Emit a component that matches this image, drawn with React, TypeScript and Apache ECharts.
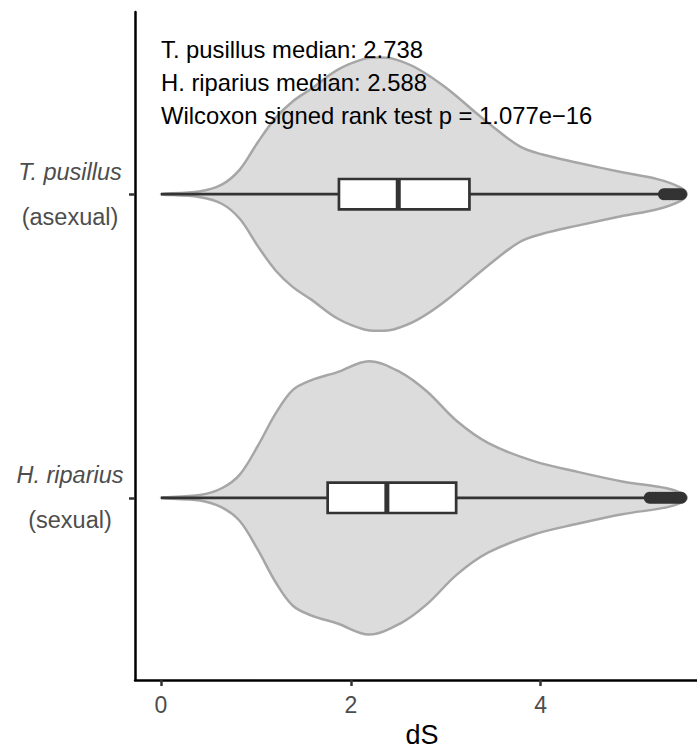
import React, { useEffect, useRef } from 'react';
import * as echarts from 'echarts';

// Categories (top to bottom) and their positions on the discrete y scale
const speciesNames = ['T. pusillus', 'H. riparius'];
const reproLabels = ['(asexual)', '(sexual)'];
const categoryPos = [2, 1];

// Violin density profiles (dS value, relative half-width)
const densityDsT = [0, 0.4, 0.64, 0.83, 1.02, 1.21, 1.39, 1.58, 1.86, 2.14, 2.3, 2.45, 2.7, 3.0, 3.45, 3.78, 4.02, 4.39, 4.86, 5.23, 5.47, 5.54];
const densityWT = [0, 0.02, 0.07, 0.18, 0.38, 0.56, 0.68, 0.77, 0.91, 0.99, 1.0, 0.99, 0.92, 0.78, 0.52, 0.35, 0.29, 0.23, 0.16, 0.11, 0.05, 0];
const densityDsH = [0, 0.41, 0.64, 0.83, 1.02, 1.21, 1.39, 1.58, 1.86, 2.19, 2.52, 2.8, 3.12, 3.45, 3.92, 4.39, 4.86, 5.33, 5.5, 5.54];
const densityWH = [0, 0.02, 0.07, 0.17, 0.38, 0.62, 0.79, 0.86, 0.92, 1.0, 0.92, 0.78, 0.56, 0.4, 0.27, 0.19, 0.12, 0.07, 0.03, 0];

// Box statistics: [lower whisker, Q1, median, Q3, upper whisker]
const boxT = [0, 1.875, 2.5, 3.25, 5.3];
const boxH = [0, 1.756, 2.38, 3.11, 5.12];

// Outliers (overlapping points near the max)
const outliersT = [5.3, 5.33, 5.36, 5.39, 5.42, 5.45, 5.48];
const outliersH = [5.15, 5.18, 5.21, 5.24, 5.27, 5.3, 5.33, 5.36, 5.39, 5.42, 5.45, 5.48];

const xTicks = [0, 2, 4];
const xAxisTitle = 'dS';
const annotationLines = [
  'T. pusillus median: 2.738',
  'H. riparius median: 2.588',
  'Wilcoxon signed rank test p = 1.077e\u221216',
];

const FONT = 'Liberation Sans, Arial, Helvetica, sans-serif';

export default function App() {
  const ref = useRef<HTMLDivElement>(null);
  useEffect(() => {
    if (!ref.current) return;
    const chart = echarts.init(ref.current, null, { renderer: 'svg' });
    const densX = [densityDsT, densityDsH];
    const densW = [densityWT, densityWH];
    const boxes = [boxT, boxH];
    const halfViolin = 0.45;
    const halfBox = 0.05;

    const option: any = {
      animation: false,
      backgroundColor: '#ffffff',
      grid: { left: 135, right: 0, top: 12, bottom: 70, containLabel: false },
      xAxis: {
        type: 'value',
        min: -0.274,
        max: 5.648,
        splitLine: { show: false },
        axisLine: { show: true, onZero: false, lineStyle: { color: '#000000', width: 2.5 } },
        axisTick: { show: true, customValues: xTicks, length: 6, lineStyle: { color: '#333333', width: 2.5 } },
        axisLabel: { customValues: xTicks, fontSize: 23, color: '#4D4D4D', margin: 13, fontFamily: FONT },
      },
      yAxis: {
        type: 'value',
        min: 0.4,
        max: 2.6,
        splitLine: { show: false },
        axisLine: { show: true, onZero: false, lineStyle: { color: '#000000', width: 2.5 } },
        axisTick: { show: true, customValues: categoryPos, length: 6, lineStyle: { color: '#333333', width: 2.5 } },
        axisLabel: {
          customValues: categoryPos,
          align: 'center',
          margin: 65,
          formatter: (v: number) => {
            const i = categoryPos.indexOf(v);
            if (i < 0) return '';
            return '{it|' + speciesNames[i] + '}\n{n|' + reproLabels[i] + '}';
          },
          rich: {
            it: { fontStyle: 'italic', fontSize: 23.5, color: '#4D4D4D', lineHeight: 45, fontFamily: FONT, align: 'center' },
            n: { fontSize: 23.5, color: '#4D4D4D', lineHeight: 45, fontFamily: FONT, align: 'center' },
          },
        },
      },
      graphic: [
        ...annotationLines.map((t, i) => ({
          type: 'text',
          left: 161,
          top: 37 + i * 33,
          z: 100,
          style: { text: t, fontSize: 23.8, fill: '#000000', fontFamily: FONT },
        })),
        {
          type: 'text',
          x: 422,
          y: 735,
          z: 100,
          style: { text: xAxisTitle, fontSize: 27, fill: '#000000', fontFamily: FONT, textAlign: 'center', textVerticalAlign: 'middle' },
        },
      ],
      series: [
        {
          type: 'custom',
          clip: false,
          z: 1,
          data: categoryPos.map((c) => [0, c]),
          renderItem: (params: any, api: any) => {
            const i = params.dataIndex;
            const c = categoryPos[i];
            const xs = densX[i];
            const ws = densW[i];
            const upper = xs.map((x, k) => api.coord([x, c + ws[k] * halfViolin]));
            const lower: number[][] = [];
            for (let k = xs.length - 2; k >= 1; k--) lower.push(api.coord([xs[k], c - ws[k] * halfViolin]));
            return {
              type: 'polygon',
              shape: { points: upper.concat(lower), smooth: 0.35 },
              style: { fill: '#DCDCDC', stroke: '#A6A6A6', lineWidth: 2.5 },
            };
          },
        },
        {
          type: 'custom',
          clip: false,
          z: 2,
          data: categoryPos.map((c) => [0, c]),
          renderItem: (params: any, api: any) => {
            const i = params.dataIndex;
            const c = categoryPos[i];
            const b = boxes[i];
            const pLo = api.coord([b[0], c]);
            const pQ1 = api.coord([b[1], c + halfBox]);
            const pQ1b = api.coord([b[1], c - halfBox]);
            const pMed = api.coord([b[2], c + halfBox]);
            const pMedb = api.coord([b[2], c - halfBox]);
            const pQ3 = api.coord([b[3], c + halfBox]);
            const pHi = api.coord([b[4], c]);
            const lineStyle = { stroke: '#333333', lineWidth: 2.7 };
            return {
              type: 'group',
              children: [
                { type: 'line', shape: { x1: pLo[0], y1: pLo[1], x2: pQ1[0], y2: pLo[1] }, style: lineStyle },
                { type: 'line', shape: { x1: pQ3[0], y1: pHi[1], x2: pHi[0], y2: pHi[1] }, style: lineStyle },
                {
                  type: 'rect',
                  shape: { x: pQ1[0], y: pQ1[1], width: pQ3[0] - pQ1[0], height: pQ1b[1] - pQ1[1] },
                  style: { fill: '#FFFFFF', stroke: '#333333', lineWidth: 2.7 },
                },
                { type: 'line', shape: { x1: pMed[0], y1: pMed[1], x2: pMedb[0], y2: pMedb[1] }, style: { stroke: '#333333', lineWidth: 5 } },
              ],
            };
          },
        },
        {
          type: 'scatter',
          z: 3,
          symbol: 'circle',
          symbolSize: 12,
          itemStyle: { color: '#333333', opacity: 1 },
          data: [
            ...outliersT.map((x) => [x, categoryPos[0]]),
            ...outliersH.map((x) => [x, categoryPos[1]]),
          ],
        },
      ],
    };
    chart.setOption(option);
    return () => chart.dispose();
  }, []);
  return <div ref={ref} style={{ position: 'fixed', left: 0, top: 0, width: 697, height: 750 }} />;
}
